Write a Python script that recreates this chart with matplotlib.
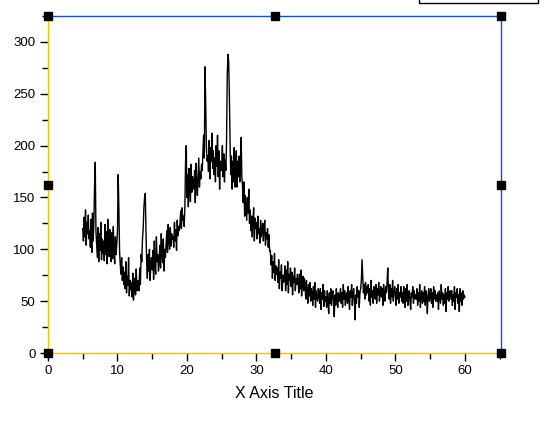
import numpy as np
import matplotlib
matplotlib.use('Agg')
import matplotlib.pyplot as plt
from matplotlib.ticker import MultipleLocator
from matplotlib.patches import Rectangle

plt.rcParams['font.family'] = ['Liberation Sans', 'DejaVu Sans']

# intensity readings, one row per unit of x (step 0.1), starting at x = 5
rows = [
    [120, 108, 131, 112, 138, 104, 126, 115, 133, 110],   # 5
    [118, 102, 129, 97, 135, 108, 125, 160, 184, 118],    # 6
    [104, 92, 121, 88, 115, 99, 126, 90, 110, 96],        # 7
    [108, 89, 124, 95, 117, 86, 129, 101, 93, 119],       # 8
    [100, 88, 116, 91, 122, 97, 86, 112, 95, 105],        # 9
    [118, 172, 140, 98, 85, 76, 92, 70, 83, 66],          # 10
    [78, 62, 88, 58, 74, 65, 92, 55, 70, 61],             # 11
    [68, 54, 77, 51, 63, 72, 56, 81, 60, 66],             # 12
    [70, 60, 82, 66, 95, 88, 110, 120, 140, 150],         # 13
    [154, 118, 88, 72, 95, 79, 100, 70, 86, 92],          # 14
    [80, 99, 71, 108, 84, 76, 112, 88, 95, 79],           # 15
    [90, 104, 82, 115, 93, 87, 110, 79, 100, 92],         # 16
    [105, 118, 97, 124, 108, 100, 121, 103, 115, 110],    # 17
    [112, 102, 126, 108, 119, 99, 128, 113, 122, 118],    # 18
    [125, 137, 120, 140, 128, 132, 122, 141, 185, 200],   # 19
    [150, 172, 141, 178, 160, 146, 182, 155, 170, 162],   # 20
    [158, 176, 145, 183, 166, 152, 170, 188, 160, 175],   # 21
    [168, 182, 176, 195, 210, 188, 276, 240, 198, 185],   # 22
    [190, 175, 205, 168, 198, 185, 212, 178, 195, 172],   # 23
    [188, 165, 200, 180, 210, 170, 195, 158, 185, 176],   # 24
    [182, 200, 170, 192, 165, 186, 176, 205, 268, 288],   # 25
    [282, 250, 205, 172, 190, 158, 185, 165, 198, 160],   # 26
    [175, 195, 160, 185, 170, 190, 165, 182, 208, 170],   # 27
    [160, 145, 165, 132, 152, 140, 128, 150, 135, 158],   # 28
    [125, 138, 118, 132, 112, 128, 140, 108, 130, 120],   # 29
    [126, 110, 132, 115, 120, 106, 128, 112, 118, 125],   # 30
    [108, 122, 128, 104, 116, 110, 120, 102, 114, 98],    # 31
    [99, 85, 94, 72, 88, 78, 96, 70, 84, 76],             # 32
    [82, 68, 90, 62, 78, 72, 85, 60, 75, 68],             # 33
    [72, 84, 60, 80, 66, 88, 58, 76, 70, 82],             # 34
    [64, 78, 56, 74, 68, 82, 60, 72, 66, 76],             # 35
    [70, 58, 76, 62, 80, 55, 68, 74, 60, 72],             # 36
    [64, 52, 70, 58, 48, 66, 55, 68, 50, 62],             # 37
    [58, 46, 64, 52, 68, 44, 60, 55, 50, 62],             # 38
    [56, 48, 62, 42, 58, 52, 66, 45, 60, 50],             # 39
    [54, 44, 60, 50, 38, 58, 48, 62, 46, 56],             # 40
    [60, 50, 35, 56, 46, 62, 52, 44, 58, 50],             # 41
    [55, 62, 48, 58, 44, 66, 52, 60, 46, 56],             # 42
    [58, 48, 64, 52, 42, 60, 54, 66, 46, 58],             # 43
    [62, 50, 32, 56, 48, 64, 54, 60, 44, 58],             # 44
    [62, 70, 90, 74, 58, 66, 52, 68, 56, 64],             # 45
    [58, 66, 50, 62, 46, 70, 54, 60, 48, 64],             # 46
    [60, 52, 66, 48, 62, 56, 68, 50, 58, 64],             # 47
    [54, 62, 46, 66, 56, 50, 64, 58, 68, 82],             # 48
    [60, 52, 66, 48, 62, 54, 70, 50, 58, 64],             # 49
    [56, 46, 62, 52, 66, 48, 58, 54, 64, 50],             # 50
    [58, 48, 64, 52, 44, 62, 50, 66, 46, 56],             # 51
    [60, 50, 42, 58, 54, 64, 48, 60, 52, 56],             # 52
    [52, 62, 46, 58, 50, 66, 44, 56, 60, 48],             # 53
    [58, 50, 64, 46, 60, 54, 38, 56, 62, 50],             # 54
    [54, 62, 48, 58, 44, 64, 52, 60, 50, 56],             # 55
    [50, 58, 42, 60, 54, 48, 66, 52, 58, 46],             # 56
    [56, 48, 62, 40, 58, 52, 64, 50, 56, 60],             # 57
    [52, 60, 46, 56, 50, 64, 42, 58, 54, 62],             # 58
    [48, 56, 40, 62, 50, 58, 46, 60, 52, 56],             # 59
    [54],                                                 # 60
]
x_start = 5.0
x_step = 0.1

y = np.concatenate([np.array(r, dtype=float) for r in rows])
x = x_start + x_step * np.arange(len(y))

fig = plt.figure(figsize=(5.44, 4.24), dpi=100)
ax = fig.add_axes([48 / 544, 71 / 424, 453 / 544, 337 / 424])

ax.plot(x, y, color='black', lw=1.0)

ax.set_xlim(0, 65.2)
ax.set_ylim(0, 325)
ax.xaxis.set_major_locator(MultipleLocator(10))
ax.xaxis.set_minor_locator(MultipleLocator(5))
ax.yaxis.set_major_locator(MultipleLocator(50))
ax.yaxis.set_minor_locator(MultipleLocator(25))
ax.tick_params(which='major', direction='out', length=6, width=1, labelsize=9.5, pad=3)
ax.tick_params(which='minor', direction='out', length=4, width=1)
ax.tick_params(top=False, right=False, which='both')

ax.spines['left'].set_color('#FFC000')
ax.spines['bottom'].set_color('#FFC000')
ax.spines['top'].set_color('#0050FF')
ax.spines['right'].set_color('#0050FF')
for s in ax.spines.values():
    s.set_linewidth(1)

ax.set_xlabel('X Axis Title', fontsize=11.5, labelpad=6)

# selection handles
hx = [0, 0.5, 1, 0, 1, 0, 0.5, 1]
hy = [1, 1, 1, 0.5, 0.5, 0, 0, 0]
ax.plot(hx, hy, 's', color='black', ms=5.5, transform=ax.transAxes, clip_on=False, zorder=5)

# partial box at top right
fig.patches.append(Rectangle((419 / 544, 421 / 424), 119 / 544, 0.05, transform=fig.transFigure,
                             fill=False, edgecolor='black', lw=1))

fig.savefig('out.png', dpi=100)
